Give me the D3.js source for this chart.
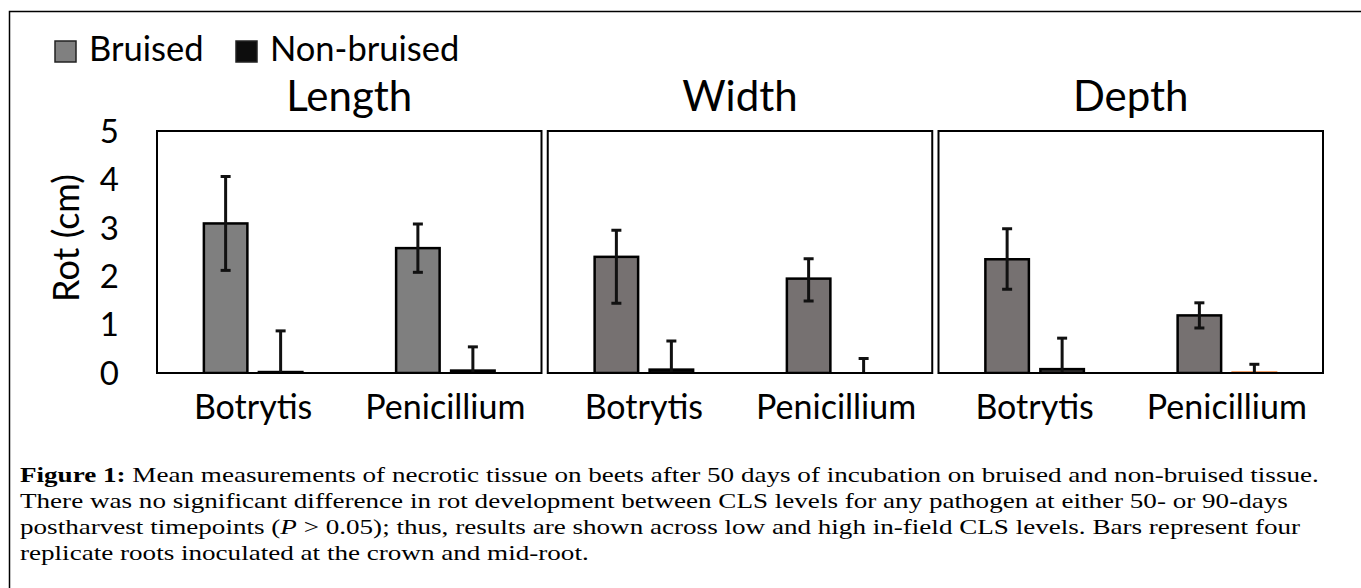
<!DOCTYPE html>
<html>
<head>
<meta charset="utf-8">
<script src="https://cdn.jsdelivr.net/npm/d3@7"></script>
<style>
  html, body { margin: 0; padding: 0; background: #fff; }
  svg { display: block; }
  .sans { font-family: Lato, "Open Sans", sans-serif; fill: #000; }
  .cap { font-family: "Liberation Serif", "Times New Roman", serif; fill: #000; font-size: 22px; }
</style>
</head>
<body>
<svg id="chart" width="1361" height="588"></svg>
<script>
// chart values
var panels = ['Length', 'Width', 'Depth'];
var categories = ['Botrytis', 'Penicillium'];
var series = ['Bruised', 'Non-bruised'];
var bruised = [[3.09, 2.58], [2.40, 1.95], [2.35, 1.19]];
var bruisedErrUp = [[0.97, 0.50], [0.55, 0.41], [0.63, 0.26]];
var bruisedErrDown = [[0.97, 0.50], [0.96, 0.46], [0.62, 0.26]];
var nonBruised = [[0.02, 0.05], [0.07, 0.00], [0.08, 0.01]];
var nonBruisedErr = [[0.85, 0.49], [0.59, 0.30], [0.64, 0.17]];
var yTicks = [0, 1, 2, 3, 4, 5];

var color = {
  legendBruised: '#808080',
  legendNon: '#0d0d0d',
  bruised: ['#7f7f7f', '#767171', '#767171'],
  non: [['#0d0d0d', '#0d0d0d'], ['#0d0d0d', '#0d0d0d'], ['#3b3838', '#ed7d31']]
};

var caption = [
  [{b: 'Figure 1:'}, {t: ' Mean measurements of necrotic tissue on beets after 50 days of incubation on bruised and non-bruised tissue.'}],
  [{t: 'There was no significant difference in rot development between CLS levels for any pathogen at either 50- or 90-days'}],
  [{t: 'postharvest timepoints ('}, {i: 'P'}, {t: ' > 0.05); thus, results are shown across low and high in-field CLS levels. Bars represent four'}],
  [{t: 'replicate roots inoculated at the crown and mid-root.'}]
];

var svg = d3.select('#chart');

// outer frame (open to the right and bottom, like the cropped original)
svg.append('path')
  .attr('d', 'M9.5,588V11.5H1361')
  .attr('fill', 'none').attr('stroke', '#000').attr('stroke-width', 1.5);

var y = d3.scaleLinear().domain([0, 5]).range([373, 131]);
var xPanel = d3.scaleBand().domain(panels).range([157, 1323]).paddingInner(0.016);
var xCat = d3.scaleBand().domain(categories).range([0, xPanel.bandwidth()]);
var xSer = d3.scaleBand().domain(series).range([0, 98.5]).paddingInner(0.209);

// legend
var legend = svg.append('g').attr('class', 'sans');
var legendX = [55, 236];
series.forEach(function (s, i) {
  legend.append('rect')
    .attr('x', legendX[i]).attr('y', 41).attr('width', 21).attr('height', 21)
    .attr('fill', i === 0 ? color.legendBruised : color.legendNon)
    .attr('stroke', '#222').attr('stroke-width', 1.5);
  legend.append('text')
    .attr('x', legendX[i] + 34).attr('y', 61)
    .attr('font-size', 34.5)
    .text(s);
});

// y axis labels + title
svg.append('g').attr('class', 'sans')
  .selectAll('text').data(yTicks).join('text')
  .attr('x', 119).attr('y', function (d) { return y(d); })
  .attr('dy', '0.36em').attr('text-anchor', 'end')
  .attr('font-size', 33)
  .text(function (d) { return d; });

svg.append('text').attr('class', 'sans')
  .attr('transform', 'translate(79,238) rotate(-90)')
  .attr('text-anchor', 'middle').attr('font-size', 36)
  .text('Rot (cm)');

panels.forEach(function (p, pi) {
  var g = svg.append('g').attr('transform', 'translate(' + xPanel(p) + ',0)');
  var w = xPanel.bandwidth();

  g.append('clipPath').attr('id', 'clip' + pi)
    .append('rect').attr('x', 0).attr('y', y(5)).attr('width', w).attr('height', y(0) - y(5));

  g.append('text').attr('class', 'sans')
    .attr('x', w / 2).attr('y', 111).attr('text-anchor', 'middle')
    .attr('font-size', 42).text(p);

  var plot = g.append('g').attr('clip-path', 'url(#clip' + pi + ')');

  categories.forEach(function (c, ci) {
    var cx = xCat(c) + xCat.bandwidth() / 2 - 49.25;
    var rows = [
      {s: series[0], v: bruised[pi][ci], up: bruisedErrUp[pi][ci], dn: bruisedErrDown[pi][ci],
       fill: color.bruised[pi], stroke: '#000'},
      {s: series[1], v: nonBruised[pi][ci], up: nonBruisedErr[pi][ci], dn: nonBruisedErr[pi][ci],
       fill: color.non[pi][ci], stroke: color.non[pi][ci] === '#ed7d31' ? '#ed7d31' : '#000'}
    ];
    rows.forEach(function (r) {
      var bx = cx + xSer(r.s);
      var bw = xSer.bandwidth();
      plot.append('rect')
        .attr('x', bx).attr('y', y(r.v))
        .attr('width', bw).attr('height', Math.max(0, y(0) - y(r.v)))
        .attr('fill', r.fill).attr('stroke', r.stroke).attr('stroke-width', 2.5);
      var mx = bx + bw / 2;
      var eb = plot.append('g').attr('stroke', '#111').attr('stroke-width', 3);
      eb.append('line').attr('x1', mx).attr('x2', mx).attr('y1', y(r.v + r.up)).attr('y2', y(r.v - r.dn));
      eb.append('line').attr('x1', mx - 5).attr('x2', mx + 5).attr('y1', y(r.v + r.up)).attr('y2', y(r.v + r.up));
      eb.append('line').attr('x1', mx - 5).attr('x2', mx + 5).attr('y1', y(r.v - r.dn)).attr('y2', y(r.v - r.dn));
    });

    g.append('text').attr('class', 'sans')
      .attr('x', xCat(c) + xCat.bandwidth() / 2).attr('y', 419)
      .attr('text-anchor', 'middle').attr('font-size', 34)
      .text(c);
  });

  g.append('rect')
    .attr('x', 0).attr('y', y(5)).attr('width', w).attr('height', y(0) - y(5))
    .attr('fill', 'none').attr('stroke', '#000').attr('stroke-width', 2);
});

// caption: the original text box is stretched sideways, so scale x only
var capG = svg.append('g').attr('class', 'cap')
  .attr('transform', 'translate(20,0) scale(1.232,1)');
caption.forEach(function (line, li) {
  var t = capG.append('text').attr('x', 0).attr('y', 482 + li * 26);
  line.forEach(function (seg) {
    var ts = t.append('tspan');
    if (seg.b) ts.attr('font-weight', 'bold').text(seg.b);
    else if (seg.i) ts.attr('font-style', 'italic').text(seg.i);
    else ts.text(seg.t);
  });
});
</script>
</body>
</html>
